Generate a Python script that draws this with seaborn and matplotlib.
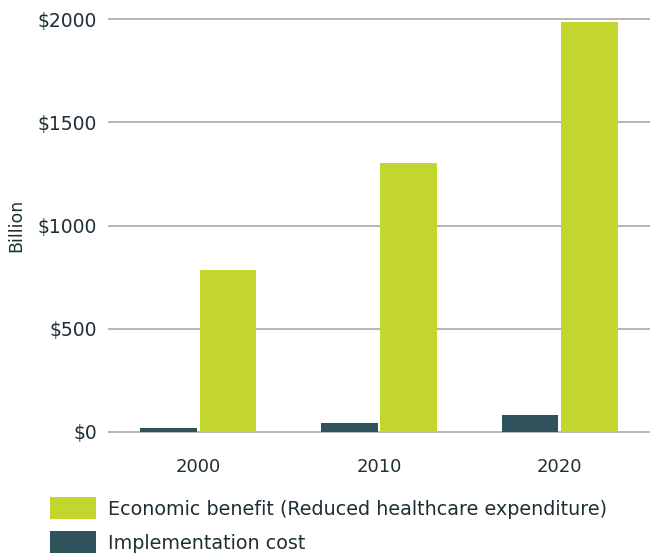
import matplotlib
matplotlib.use('Agg')
import matplotlib.pyplot as plt
from matplotlib.patches import Patch
import pandas as pd
import seaborn as sns

years = ['2000', '2010', '2020']
implementation_cost = [18, 42, 82]
economic_benefit = [784, 1305, 1985]
series_names = ['Implementation cost', 'Economic benefit (Reduced healthcare expenditure)']
y_ticks = [0, 500, 1000, 1500, 2000]
y_tick_labels = ['$0', '$500', '$1000', '$1500', '$2000']

dark = '#30525a'
green = '#c2d62e'
text_col = '#1e2f36'

df = pd.DataFrame({
    'year': years * 2,
    'value': implementation_cost + economic_benefit,
    'series': [series_names[0]] * 3 + [series_names[1]] * 3,
})

sns.set_style('white')
plt.rcParams['font.family'] = ['DejaVu Sans']

fig = plt.figure(figsize=(6.5, 5.53), dpi=100)
ax = fig.add_axes([108 / 650, (553 - 433) / 553, 542 / 650, (433 - 17) / 553])

sns.barplot(data=df, x='year', y='value', hue='series', hue_order=series_names,
            palette=[dark, green], width=0.66, gap=0.05, saturation=1,
            linewidth=0, legend=False, ax=ax)

ax.set_xlim(-0.5, 2.5)
ax.set_ylim(-5, 2010)
ax.set_yticks(y_ticks)
ax.set_yticklabels(y_tick_labels)
ax.yaxis.grid(True, color='#b5b5b5', linewidth=1.4)
ax.set_axisbelow(True)
for s in ax.spines.values():
    s.set_visible(False)
ax.tick_params(axis='y', length=0, pad=8, labelsize=13.5, labelcolor=text_col)
ax.tick_params(axis='x', length=0, pad=18, labelsize=13, labelcolor=text_col)
ax.set_xlabel('')
ax.set_ylabel('Billion', fontsize=12.5, color=text_col, labelpad=9)

handles = [Patch(facecolor=green, edgecolor='none'), Patch(facecolor=dark, edgecolor='none')]
fig.legend(handles, [series_names[1], series_names[0]], loc='upper left',
           bbox_to_anchor=(37 / 650, 1 - 484 / 553), frameon=False,
           fontsize=13.8, handlelength=2.4, handleheight=1.35, handletextpad=0.6,
           labelspacing=0.65, labelcolor=text_col, borderaxespad=0.3)

fig.savefig('out.png', dpi=100)
